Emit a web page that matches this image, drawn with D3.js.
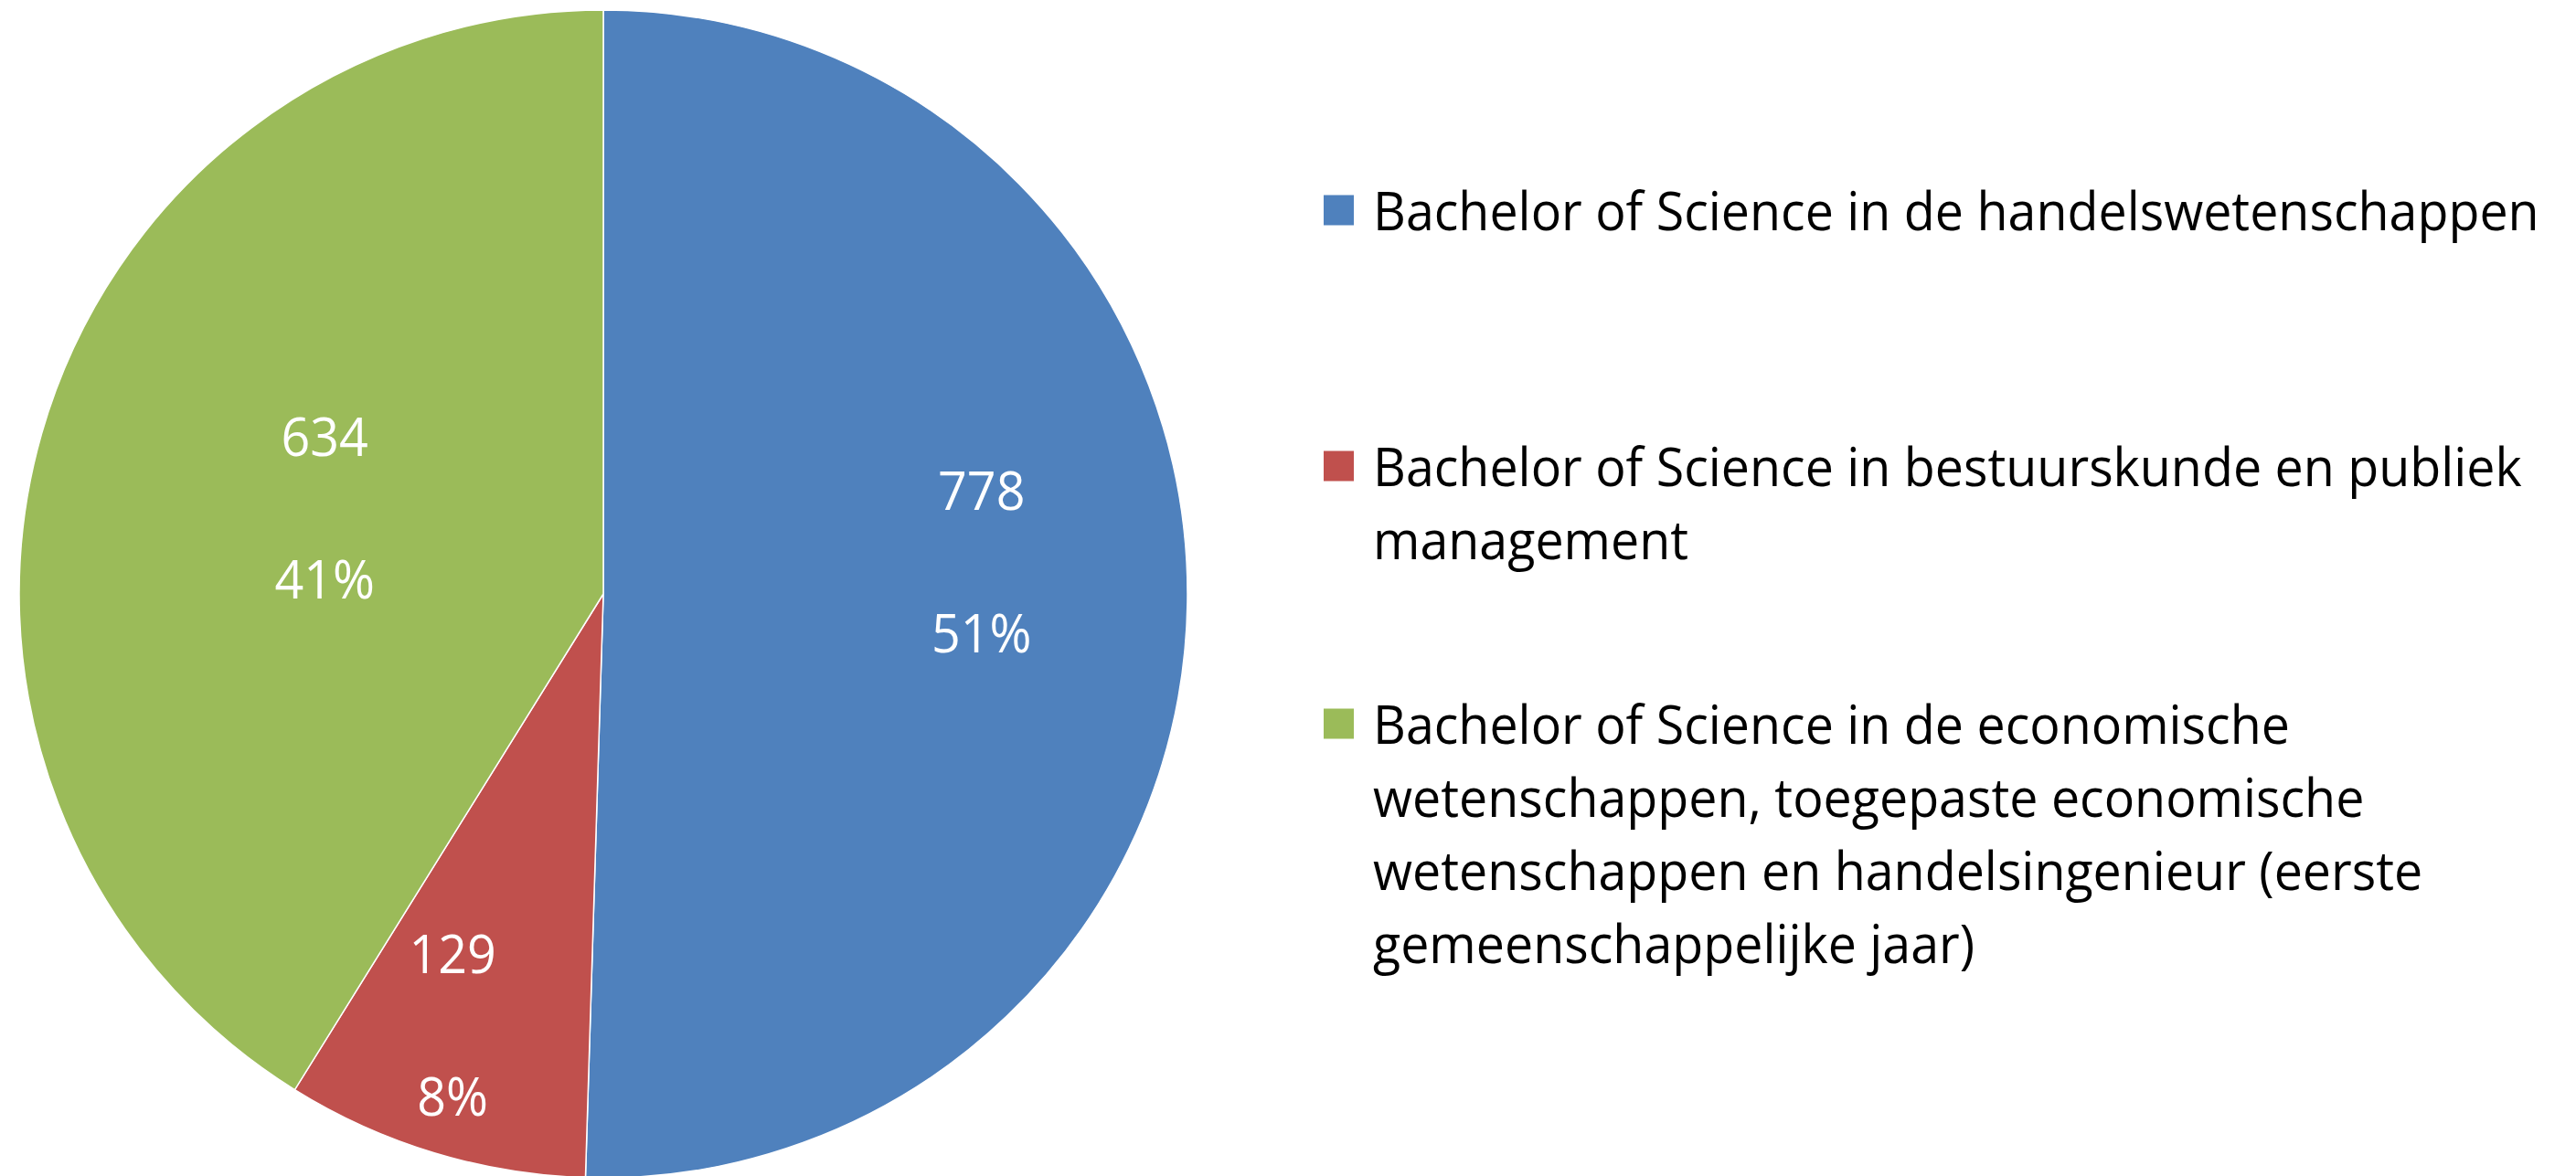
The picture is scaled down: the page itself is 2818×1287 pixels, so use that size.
<!DOCTYPE html>
<html>
<head>
<meta charset="utf-8">
<script src="https://cdn.jsdelivr.net/npm/d3@7"></script>
<style>
  html, body { margin: 0; padding: 0; background: #fff; overflow: hidden; }
  svg { display: block; }
</style>
</head>
<body>
<svg id="chart" width="2818" height="1287"></svg>
<script>
// Chart data
const categories = [
  'Bachelor of Science in de handelswetenschappen',
  'Bachelor of Science in bestuurskunde en publiek management',
  'Bachelor of Science in de economische wetenschappen, toegepaste economische wetenschappen en handelsingenieur (eerste gemeenschappelijke jaar)'
];
const values = [778, 129, 634];
const percentLabels = ['51%', '8%', '41%'];
const colors = ['#4F81BD', '#C0504D', '#9BBB59'];

// Layout
const W = 2818, H = 1287;
const cx = 660, cy = 650, radius = 639;
const fontFamily = '"Open Sans", "Noto Sans", sans-serif';
const fontSize = 58;
const labelRadius = [0.65, 0.78, 0.50];   // fraction of radius for data labels
const labelShift = [-5.9, 2.5, 1.5];      // degrees, best-fit nudge
const labelGap = 78;                      // half distance between value and percent

const legendX = 1448, legendTextX = 1502, legendSwatch = 33;
const legendFirstY = 230, legendLineH = 80, legendGaps = [200, 122];
const legendMaxW = 1300, legendRefW = 1276;

const svg = d3.select('#chart');

// Horizontal condense factor so the substitute font matches the narrow original
const probe = svg.append('text')
  .attr('font-family', fontFamily)
  .attr('font-size', fontSize)
  .text(categories[0]);
const sx = legendRefW / probe.node().getComputedTextLength();
probe.remove();

// Pie
const pie = d3.pie().sort(null).value(d => d)(values);
const arc = d3.arc().innerRadius(0).outerRadius(radius);

const g = svg.append('g').attr('transform', `translate(${cx},${cy})`);

g.selectAll('path.slice')
  .data(pie)
  .join('path')
  .attr('class', 'slice')
  .attr('d', arc)
  .attr('fill', (d, i) => colors[i])
  .attr('stroke', '#ffffff')
  .attr('stroke-width', 1.5);

// Data labels: value above, percent below
const labels = g.selectAll('g.label')
  .data(pie)
  .join('g')
  .attr('class', 'label')
  .attr('transform', (d, i) => {
    const a = (d.startAngle + d.endAngle) / 2 + labelShift[i] * Math.PI / 180;
    const r = radius * labelRadius[i];
    return `translate(${r * Math.sin(a)},${-r * Math.cos(a)})`;
  });

labels.append('text')
  .attr('transform', `translate(0,${-labelGap}) scale(${sx},1)`)
  .attr('text-anchor', 'middle')
  .attr('dominant-baseline', 'central')
  .attr('font-family', fontFamily)
  .attr('font-size', fontSize)
  .attr('fill', '#ffffff')
  .text(d => d.data);

labels.append('text')
  .attr('transform', (d, i) => `translate(0,${labelGap}) scale(${sx},1)`)
  .attr('text-anchor', 'middle')
  .attr('dominant-baseline', 'central')
  .attr('font-family', fontFamily)
  .attr('font-size', fontSize)
  .attr('fill', '#ffffff')
  .text((d, i) => percentLabels[i]);

// Legend with word wrapping
function wrapLines(str) {
  const tmp = svg.append('text')
    .attr('font-family', fontFamily)
    .attr('font-size', fontSize);
  const words = str.split(' ');
  const lines = [];
  let cur = '';
  words.forEach(w => {
    const test = cur ? cur + ' ' + w : w;
    tmp.text(test);
    if (cur && tmp.node().getComputedTextLength() * sx > legendMaxW) {
      lines.push(cur);
      cur = w;
    } else {
      cur = test;
    }
  });
  if (cur) lines.push(cur);
  tmp.remove();
  return lines;
}

let y = legendFirstY;
categories.forEach((name, i) => {
  const lines = wrapLines(name);
  const item = svg.append('g').attr('class', 'legend-item');

  item.append('rect')
    .attr('x', legendX)
    .attr('y', y - legendSwatch / 2)
    .attr('width', legendSwatch)
    .attr('height', legendSwatch)
    .attr('fill', colors[i]);

  lines.forEach((line, j) => {
    item.append('text')
      .attr('transform', `translate(${legendTextX},${y + j * legendLineH}) scale(${sx},1)`)
      .attr('dominant-baseline', 'central')
      .attr('font-family', fontFamily)
      .attr('font-size', fontSize)
      .attr('fill', '#000000')
      .text(line);
  });

  y += lines.length * legendLineH + (legendGaps[i] || 0);
});
</script>
</body>
</html>
